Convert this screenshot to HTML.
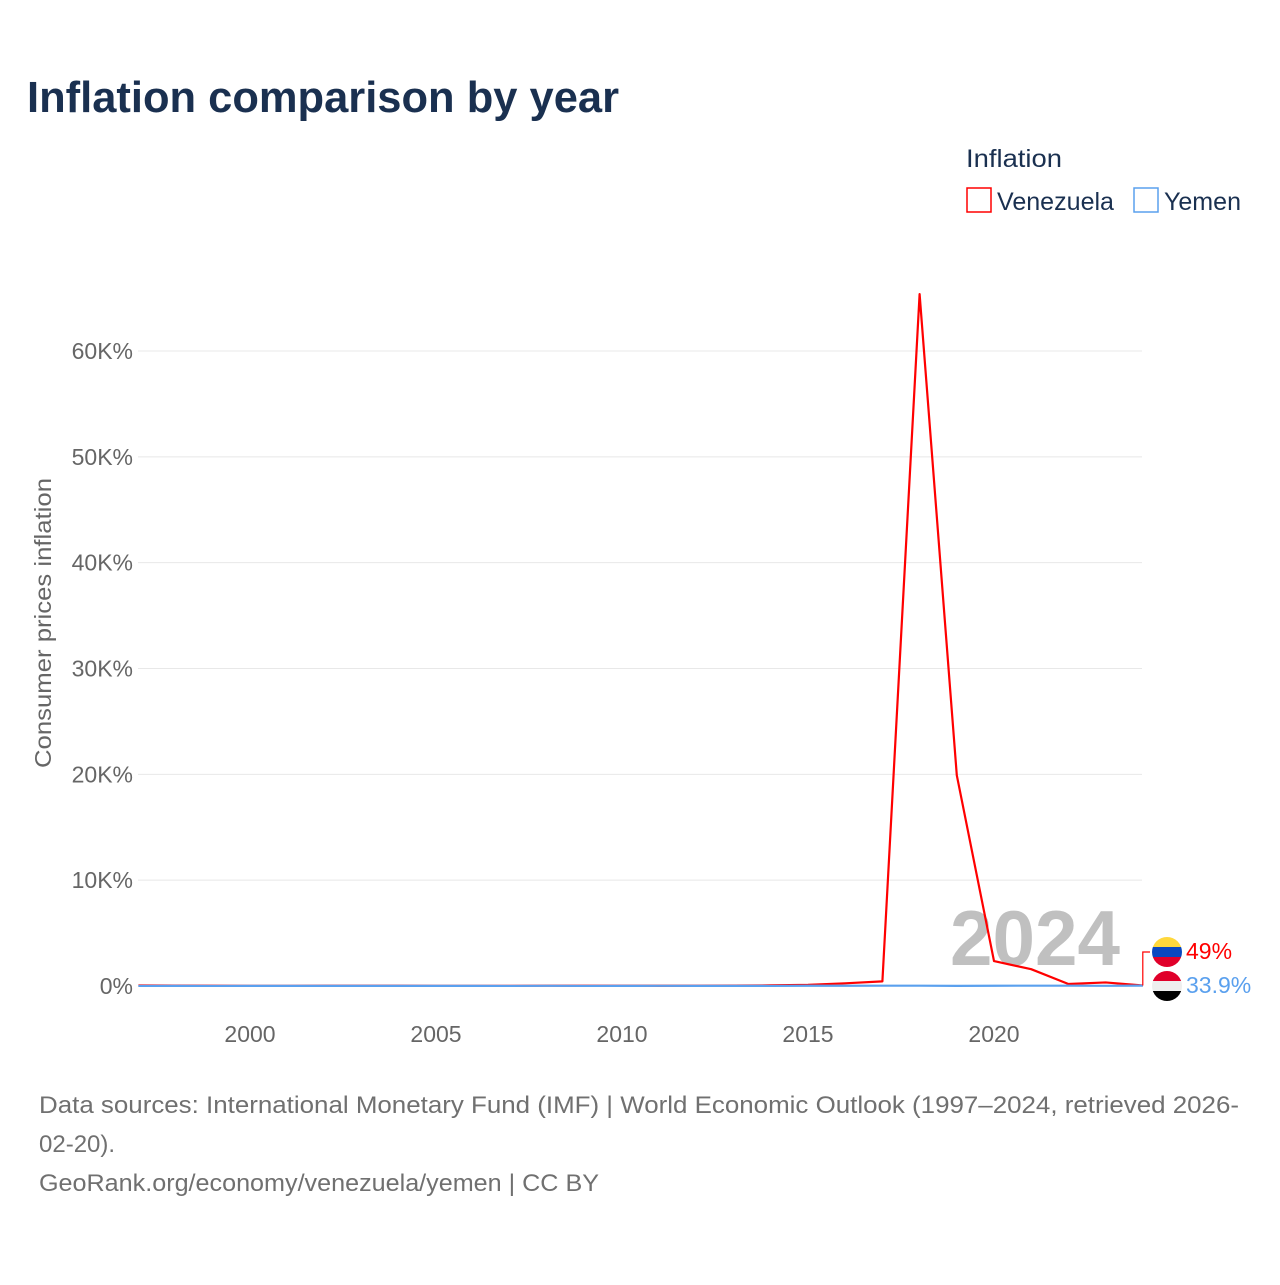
<!DOCTYPE html>
<html><head><meta charset="utf-8"><style>
body{margin:0;background:#fff;}
svg text{font-family:"Liberation Sans",sans-serif;}
</style></head><body>
<svg id="chart" width="1280" height="1280" xmlns="http://www.w3.org/2000/svg">
<rect width="1280" height="1280" fill="#fff"/>
<text x="27" y="112" font-size="44" font-weight="bold" fill="#1a3050" textLength="592" lengthAdjust="spacingAndGlyphs">Inflation comparison by year</text>
<text x="966" y="167" font-size="25" fill="#1a3050" textLength="96" lengthAdjust="spacingAndGlyphs">Inflation</text>
<g>
<rect x="967" y="188" width="24" height="24" fill="none" stroke="#ff0000" stroke-width="1.5"/>
<text x="997" y="210" font-size="25" fill="#1a3050" textLength="117" lengthAdjust="spacingAndGlyphs">Venezuela</text></g>
<g>
<rect x="1134" y="188" width="24" height="24" fill="none" stroke="#5aa0ee" stroke-width="1.5"/>
<text x="1164" y="210" font-size="25" fill="#1a3050" textLength="77" lengthAdjust="spacingAndGlyphs">Yemen</text></g>
<g id="grid"></g><g id="yticks"></g><g id="xticks"></g>
<text x="950" y="965" font-size="78" font-weight="bold" fill="#c0c0c0" textLength="170" lengthAdjust="spacingAndGlyphs">2024</text>
<g id="lines"></g>
<text transform="translate(51,623) rotate(-90)" font-size="23" fill="#666" text-anchor="middle" textLength="290" lengthAdjust="spacingAndGlyphs">Consumer prices inflation</text>
<g id="endlabels"></g>
<text x="39" y="1113" font-size="24" fill="#707070" textLength="1200" lengthAdjust="spacingAndGlyphs">Data sources: International Monetary Fund (IMF) | World Economic Outlook (1997–2024, retrieved 2026-</text>
<text x="39" y="1152" font-size="24" fill="#707070">02-20).</text>
<text x="39" y="1191" font-size="24" fill="#707070" textLength="560" lengthAdjust="spacingAndGlyphs">GeoRank.org/economy/venezuela/yemen | CC BY</text>
</svg>
<script>
const years=[1997,1998,1999,2000,2001,2002,2003,2004,2005,2006,2007,2008,2009,2010,2011,2012,2013,2014,2015,2016,2017,2018,2019,2020,2021,2022,2023,2024];
const venezuela=[50,35.8,23.6,16.2,12.5,22.4,31.1,21.7,16,13.7,18.7,31.4,26,28.2,26.1,21.1,43.5,57.3,111.8,254.9,438,65374,19906,2355,1588,186,337,49];
const yemen=[4.6,11.5,8,10.9,11.9,12.2,10.8,12.5,9.9,10.8,7.9,19,3.7,11.2,19.5,9.9,11,8.2,22,21.3,30.4,27.6,10,26.2,31.5,29.5,16,33.9];
const yTicks=[0,10000,20000,30000,40000,50000,60000];
const yTickLabels=["0%","10K%","20K%","30K%","40K%","50K%","60K%"];
const xTicks=[2000,2005,2010,2015,2020];
const NS="http://www.w3.org/2000/svg";
const x=v=>138.4+(v-1997)*37.2;
const y=v=>986-v*(635/60000);
function mk(tag,attrs,parent){const e=document.createElementNS(NS,tag);for(const k in attrs)e.setAttribute(k,attrs[k]);document.getElementById(parent).appendChild(e);return e;}
yTicks.forEach((t,i)=>{
 if(t>0){const g=mk('line',{x1:138,x2:1142,y1:y(t),y2:y(t),stroke:'#e8e8e8','stroke-width':1},'grid');
 
 }
 const l=mk('text',{x:133,y:y(t)+8,'font-size':23,fill:'#666','text-anchor':'end'},'yticks');
 
 
 l.textContent=yTickLabels[i];
});
xTicks.forEach(t=>{
 const l=mk('text',{x:x(t),y:1042,'font-size':23,fill:'#666','text-anchor':'middle'},'xticks');
 
 
 l.textContent=t;
});
function line(data,color,name){
 const p=mk('polyline',{points:data.map((v,i)=>x(years[i])+','+y(v)).join(' '),fill:'none',stroke:color,'stroke-width':2.2,'stroke-linejoin':'round'},'lines');
 
 
}
line(venezuela,'#ff0000','venezuela-line');
line(yemen,'#5aa0ee','yemen-line');
const lx=x(2024);
const vy=y(venezuela[27]), yy=y(yemen[27]);
const c=mk('polyline',{points:`${lx},${vy} ${lx},952 1150,952`,fill:'none',stroke:'#ff0000','stroke-width':1.2},'endlabels');


const fv=mk('g',{},'endlabels');


fv.innerHTML='<clipPath id="cv"><circle cx="1167" cy="952" r="15"/></clipPath><g clip-path="url(#cv)"><rect x="1150" y="936" width="34" height="11" fill="#ffd83d"/><rect x="1150" y="947" width="34" height="10" fill="#0a48c0"/><rect x="1150" y="957" width="34" height="12" fill="#e0002a"/></g>';
const fy=mk('g',{},'endlabels');


fy.innerHTML='<clipPath id="cy"><circle cx="1167" cy="986" r="15"/></clipPath><g clip-path="url(#cy)"><rect x="1150" y="970" width="34" height="11" fill="#e0002a"/><rect x="1150" y="981" width="34" height="10" fill="#eeeeee"/><rect x="1150" y="991" width="34" height="12" fill="#000"/></g>';
const tv=mk('text',{x:1186,y:959,'font-size':23,fill:'#ff0000'},'endlabels');


tv.textContent=venezuela[27]+'%';
const ty=mk('text',{x:1186,y:993,'font-size':23,fill:'#5aa0ee'},'endlabels');


ty.textContent=yemen[27]+'%';
</script>
</body></html>
